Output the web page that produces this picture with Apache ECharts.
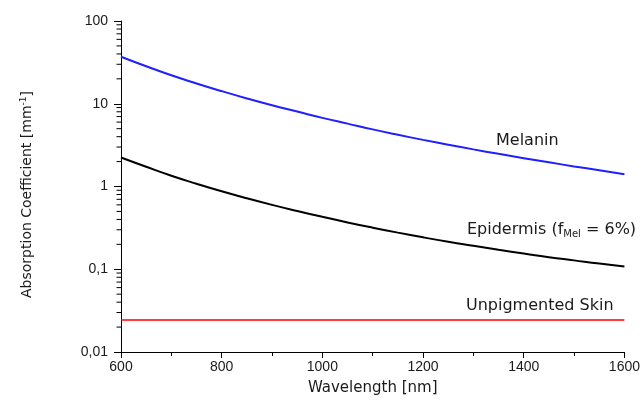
<!DOCTYPE html>
<html>
<head>
<meta charset="utf-8">
<script src="https://cdn.jsdelivr.net/npm/echarts@6/dist/echarts.min.js"></script>
<style>html,body{margin:0;padding:0;background:#fff}#c{width:643px;height:402px}</style>
</head>
<body>
<div id="c"></div>
<script>
const wavelengths = [600,650,700,750,800,850,900,950,1000,1050,1100,1150,1200,1250,1300,1350,1400,1450,1500,1550,1600];
const melanin = [37.0,28.4,22.1,17.6,14.2,11.6,9.6,8.05,6.75,5.75,4.9,4.22,3.66,3.2,2.81,2.48,2.2,1.96,1.75,1.57,1.41];
const epidermis = [2.24,1.73,1.35,1.08,0.875,0.72,0.60,0.506,0.43,0.368,0.318,0.277,0.243,0.215,0.192,0.172,0.155,0.14,0.128,0.117,0.108];
const unpigmented = [0.0244,0.0244,0.0244,0.0244,0.0244,0.0244,0.0244,0.0244,0.0244,0.0244,0.0244,0.0244,0.0244,0.0244,0.0244,0.0244,0.0244,0.0244,0.0244,0.0244,0.0244];
const xTicks = [600,800,1000,1200,1400,1600];
const yTickLabels = ['0,01','0,1','1','10','100'];
const yMinorTicks = [0.02,0.03,0.04,0.05,0.06,0.07,0.08,0.09,0.2,0.3,0.4,0.5,0.6,0.7,0.8,0.9,2,3,4,5,6,7,8,9,20,30,40,50,60,70,80,90];

const font = 'Liberation Sans, Arial, sans-serif';
const wide = 'DejaVu Sans, Verdana, sans-serif';
const toPairs = (ys) => wavelengths.map((x, i) => [x, ys[i]]);
const chart = echarts.init(document.getElementById('c'), null, {renderer: 'canvas'});
chart.setOption({
  backgroundColor: '#fff',
  animation: false,
  grid: {left: 121, right: 16, top: 21, bottom: 50},
  xAxis: {
    type: 'value', min: 600, max: 1600, interval: 200,
    name: 'Wavelength [nm]', nameLocation: 'middle', nameGap: 29,
    nameTextStyle: {fontFamily: wide, fontSize: 15, color: '#1a1a1a'},
    axisLine: {lineStyle: {color: '#000', width: 1}},
    axisTick: {show: true, length: 6, inside: false, lineStyle: {color: '#000'}},
    minorTick: {show: true, splitNumber: 2, length: 4, lineStyle: {color: '#000'}},
    splitLine: {show: false},
    axisLabel: {fontFamily: font, fontSize: 14, color: '#1a1a1a', margin: 8,
      formatter: v => xTicks.includes(v) ? String(v) : ''}
  },
  yAxis: {
    type: 'log', logBase: 10, min: 0.01, max: 100,
    name: 'Absorption Coefficient [mm{sup|-1}]', nameLocation: 'middle', nameGap: 85,
    nameTextStyle: {fontFamily: wide, fontSize: 14, color: '#1a1a1a', padding: [0, 16, 0, 0],
      rich: {sup: {fontFamily: wide, fontSize: 9, color: '#1a1a1a', verticalAlign: 'top', padding: [0,0,8,0]}}},
    axisLine: {show: true, lineStyle: {color: '#000', width: 1}},
    axisTick: {show: true, length: 7, lineStyle: {color: '#000'}},
    splitLine: {show: false},
    axisLabel: {fontFamily: font, fontSize: 14, color: '#1a1a1a', margin: 13,
      formatter: v => {
        const i = Math.round(Math.log10(v)) + 2;
        return yTickLabels[i] !== undefined ? yTickLabels[i] : '';
      }}
  },
  series: [
    {type: 'line', data: toPairs(melanin), smooth: true, symbol: 'none',
     lineStyle: {color: '#1f1fff', width: 2}},
    {type: 'line', data: toPairs(epidermis), smooth: true, symbol: 'none',
     lineStyle: {color: '#000', width: 2}},
    {type: 'line', data: toPairs(unpigmented), symbol: 'none',
     lineStyle: {color: '#ff0000', width: 1.5}},
    {type: 'custom', silent: true, clip: false,
     data: yMinorTicks.map(v => [600, v]),
     renderItem: (params, api) => {
       const p = api.coord([api.value(0), api.value(1)]);
       return {type: 'line', shape: {x1: p[0] - 4.5, y1: p[1], x2: p[0], y2: p[1]},
               style: {stroke: '#000', lineWidth: 1}};
     }}
  ],
  graphic: [
    {type: 'text', left: 496, top: 133,
     style: {text: 'Melanin', fontFamily: wide, fontSize: 16, fill: '#1a1a1a'}},
    {type: 'text', left: 467, top: 222,
     style: {text: 'Epidermis (f{sub|Mel} = 6%)', fontFamily: wide, fontSize: 16, fill: '#1a1a1a',
       rich: {sub: {fontFamily: wide, fontSize: 10, fill: '#1a1a1a', verticalAlign: 'bottom', padding: [9,0,0,0]}}}},
    {type: 'text', left: 466, top: 298,
     style: {text: 'Unpigmented Skin', fontFamily: wide, fontSize: 16, fill: '#1a1a1a'}}
  ]
});
</script>
</body>
</html>
